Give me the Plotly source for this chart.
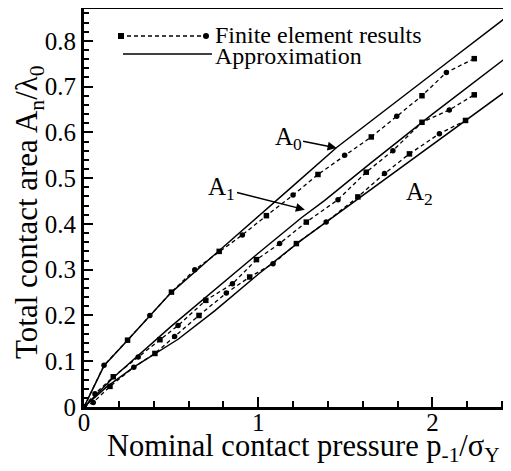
import plotly.graph_objects as go

# ---- data ----
a0_fe_x = [0, 0.115, 0.25, 0.378, 0.502, 0.636, 0.776, 0.909, 1.047, 1.2, 1.343, 1.496, 1.649, 1.795, 1.94, 2.08, 2.24]
a0_fe_y = [0, 0.091, 0.146, 0.200, 0.251, 0.300, 0.340, 0.376, 0.418, 0.463, 0.508, 0.550, 0.590, 0.635, 0.680, 0.731, 0.761]

a1_fe_x = [0, 0.063, 0.168, 0.311, 0.436, 0.54, 0.699, 0.852, 0.99, 1.123, 1.276, 1.458, 1.62, 1.773, 1.94, 2.097, 2.24]
a1_fe_y = [0, 0.029, 0.066, 0.109, 0.147, 0.178, 0.233, 0.269, 0.322, 0.357, 0.404, 0.453, 0.513, 0.560, 0.622, 0.649, 0.682]

a2_fe_x = [0, 0.053, 0.149, 0.286, 0.407, 0.52, 0.66, 0.817, 0.951, 1.085, 1.219, 1.39, 1.572, 1.725, 1.868, 2.04, 2.19]
a2_fe_y = [0, 0.010, 0.045, 0.087, 0.117, 0.154, 0.200, 0.249, 0.284, 0.313, 0.357, 0.404, 0.459, 0.510, 0.553, 0.597, 0.626]

a0_ap_x = [0, 0.115, 0.25, 0.5, 0.78, 0.95, 1.2, 1.45, 1.8, 2.1, 2.45]
a0_ap_y = [0, 0.090, 0.146, 0.250, 0.343, 0.399, 0.483, 0.567, 0.670, 0.757, 0.859]

a1_ap_x = [0, 0.17, 0.5, 0.75, 1.0, 1.25, 1.38, 1.64, 2.0, 2.45]
a1_ap_y = [0, 0.065, 0.176, 0.257, 0.336, 0.414, 0.451, 0.531, 0.640, 0.771]

a2_ap_x = [0, 0.13, 0.29, 0.54, 0.75, 1.0, 1.25, 1.52, 1.8, 2.1, 2.45]
a2_ap_y = [0, 0.044, 0.088, 0.148, 0.210, 0.290, 0.365, 0.440, 0.518, 0.601, 0.698]

x_ticks = [0, 1, 2]
x_labels = ["0", "1", "2"]
y_ticks = [0, 0.1, 0.2, 0.3, 0.4, 0.5, 0.6, 0.7, 0.8]
y_labels = ["0", "0.1", "0.2", "0.3", "0.4", "0.5", "0.6", "0.7", "0.8"]

FONT = "Liberation Serif, Times New Roman, serif"
# page body has an 8px margin: the figure is sized to fill the rest of the window
OFF = 8
W, H = 511 - OFF, 471 - OFF
L, R, T, B = 76, 0, 1, 64
pw, ph = W - L - R, H - T - B


def px(x):
    """window x pixel -> paper coordinate"""
    return (x - OFF - L) / pw


def py(y):
    """window y pixel -> paper coordinate"""
    return (H - B - (y - OFF)) / ph


fig = go.Figure()

for xs, ys in [(a0_ap_x, a0_ap_y), (a1_ap_x, a1_ap_y), (a2_ap_x, a2_ap_y)]:
    fig.add_trace(go.Scatter(x=xs, y=ys, mode="lines",
                             line=dict(color="black", width=1.5),
                             showlegend=False, hoverinfo="skip"))

for xs, ys in [(a0_fe_x, a0_fe_y), (a1_fe_x, a1_fe_y), (a2_fe_x, a2_fe_y)]:
    syms = ["square" if i % 2 == 0 else "circle" for i in range(len(xs))]
    fig.add_trace(go.Scatter(x=xs, y=ys, mode="lines+markers",
                             line=dict(color="black", width=1.3, dash="4px,3px"),
                             marker=dict(color="black", size=5.5, symbol=syms),
                             showlegend=False, hoverinfo="skip"))

shapes = []
# legend: dashed line with markers
shapes.append(dict(type="line", xref="paper", yref="paper",
                   x0=px(120), x1=px(207), y0=py(36), y1=py(36),
                   line=dict(color="black", width=1.3, dash="4px,3px")))
shapes.append(dict(type="rect", xref="paper", yref="paper",
                   xsizemode="pixel", ysizemode="pixel",
                   xanchor=px(121), yanchor=py(36),
                   x0=-3, x1=3, y0=-3, y1=3,
                   fillcolor="black", line=dict(width=0)))
shapes.append(dict(type="circle", xref="paper", yref="paper",
                   xsizemode="pixel", ysizemode="pixel",
                   xanchor=px(206), yanchor=py(36),
                   x0=-3, x1=3, y0=-3, y1=3,
                   fillcolor="black", line=dict(width=0)))
# legend: solid line
shapes.append(dict(type="line", xref="paper", yref="paper",
                   x0=px(123), x1=px(212), y0=py(54), y1=py(54),
                   line=dict(color="black", width=1.5)))

annotations = [
    dict(text="Finite element results", xref="paper", yref="paper",
         x=px(213), y=py(35), xanchor="left", yanchor="middle",
         showarrow=False, font=dict(family=FONT, size=24, color="black")),
    dict(text="Approximation", xref="paper", yref="paper",
         x=px(213), y=py(56), xanchor="left", yanchor="middle",
         showarrow=False, font=dict(family=FONT, size=24, color="black")),
    dict(text="A<sub>0</sub>", x=1.450, y=0.566, ax=1.171, ay=0.587,
         xref="x", yref="y", axref="x", ayref="y",
         showarrow=True, arrowhead=2, arrowsize=1.2, arrowwidth=1.5,
         arrowcolor="black", font=dict(family=FONT, size=25, color="black")),
    dict(text="A<sub>1</sub>", x=1.268, y=0.431, ax=0.792, ay=0.477,
         xref="x", yref="y", axref="x", ayref="y",
         showarrow=True, arrowhead=2, arrowsize=1.2, arrowwidth=1.5,
         arrowcolor="black", font=dict(family=FONT, size=25, color="black")),
    dict(text="A<sub>2</sub>", x=1.923, y=0.466, xref="x", yref="y",
         showarrow=False, font=dict(family=FONT, size=25, color="black")),
    dict(text="Nominal contact pressure p<sub>-1</sub>/σ<sub>Y</sub>",
         xref="paper", yref="paper", x=px(303), y=py(448),
         xanchor="center", yanchor="middle", showarrow=False,
         font=dict(family=FONT, size=30.5, color="black")),
    dict(text="Total contact area A<sub>n</sub>/λ<sub>0</sub>",
         xref="paper", yref="paper", x=px(29), y=py(212),
         xanchor="center", yanchor="middle", textangle=-90, showarrow=False,
         font=dict(family=FONT, size=31, color="black")),
]

fig.update_layout(
    width=W, height=H,
    margin=dict(l=L, r=R, t=T, b=B, pad=0, autoexpand=False),
    paper_bgcolor="white", plot_bgcolor="white",
    font=dict(family=FONT, color="black"),
    shapes=shapes, annotations=annotations,
    showlegend=False,
)

fig.update_xaxes(
    range=[0, 2.451], tickvals=x_ticks, ticktext=x_labels, automargin=False,
    ticks="inside", ticklen=10, tickwidth=2, tickcolor="black",
    ticklabelstandoff=-9,
    minor=dict(dtick=0.2, tick0=0, ticks="inside", ticklen=6, tickwidth=1.5, tickcolor="black"),
    showline=True, linewidth=3, linecolor="black", mirror=True,
    showgrid=False, zeroline=False,
    tickfont=dict(family=FONT, size=25, color="black"),
)
fig.update_yaxes(
    range=[0, 0.8695], tickvals=y_ticks, ticktext=y_labels, automargin=False,
    ticks="inside", ticklen=9, tickwidth=2, tickcolor="black",
    minor=dict(dtick=0.02, tick0=0, ticks="inside", ticklen=5, tickwidth=1.5, tickcolor="black"),
    showline=True, linewidth=3, linecolor="black", mirror=False,
    showgrid=False, zeroline=False,
    tickfont=dict(family=FONT, size=25, color="black"),
)

fig.write_html("out.html")
